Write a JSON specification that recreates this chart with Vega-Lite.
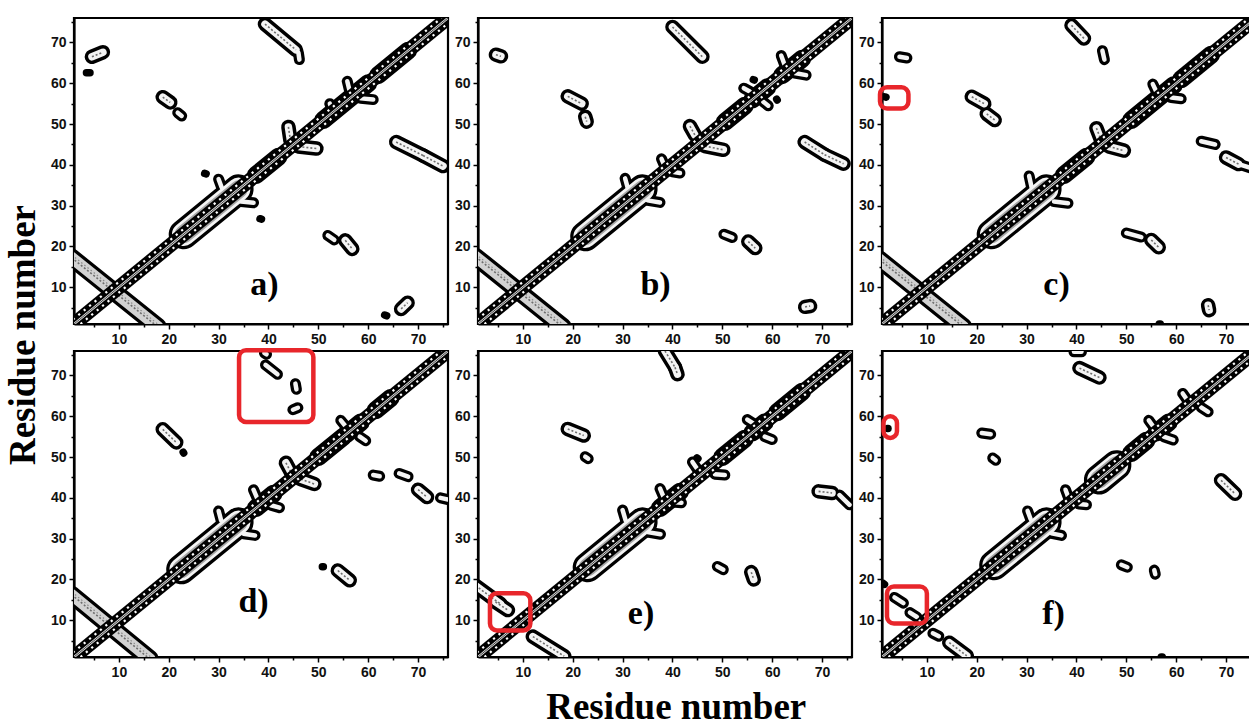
{
"$schema": "https://vega.github.io/schema/vega-lite/v6.json",
"background": "white",
"padding": {"left": 5, "top": 13, "right": 0, "bottom": 5},
"config": {"view": {"stroke": "black", "strokeWidth": 2.2}, "header": {"labels": false, "title": null, "labelFontSize": 0, "labelPadding": 0}},
"title": {"text": "Residue number", "orient": "bottom", "anchor": "middle", "font": "Liberation Serif", "fontSize": 37, "fontWeight": "bold", "color": "black", "offset": 10, "dx": 45},
"data": {"values": [
{"p":"a","k":"diag","x":1,"y":1,"x2":76,"y2":76},
{"p":"b","k":"diag","x":1,"y":1,"x2":76,"y2":76},
{"p":"c","k":"diag","x":1,"y":1,"x2":76,"y2":76},
{"p":"d","k":"diag","x":1,"y":1,"x2":76,"y2":76},
{"p":"e","k":"diag","x":1,"y":1,"x2":76,"y2":76},
{"p":"f","k":"diag","x":1,"y":1,"x2":76,"y2":76},
{"p":"a","k":"lab","x":39.2,"y":10.6,"t":"a)"},
{"p":"b","k":"lab","x":36.6,"y":10.6,"t":"b)"},
{"p":"c","k":"lab","x":36,"y":10.6,"t":"c)"},
{"p":"d","k":"lab","x":37,"y":14.4,"t":"d)"},
{"p":"e","k":"lab","x":33.7,"y":11.5,"t":"e)"},
{"p":"f","k":"lab","x":35.4,"y":11.5,"t":"f)"},
{"p":"a","k":"ad","x":0.5,"y":17.3,"x2":17.8,"y2":0.3},
{"p":"a","k":"xl","x":23,"y":23,"x2":34,"y2":34},
{"p":"a","k":"s","x":30,"y":36.5,"x2":30.6,"y2":34.5},
{"p":"a","k":"s","x":34.5,"y":31,"x2":37,"y2":30.7},
{"p":"a","k":"l","x":37.5,"y":37.5,"x2":42,"y2":42},
{"p":"a","k":"m","x":44,"y":49.3,"x2":44.4,"y2":46},
{"p":"a","k":"m","x":46,"y":44.5,"x2":49.6,"y2":44},
{"p":"a","k":"l","x":51,"y":51,"x2":60,"y2":60},
{"p":"a","k":"s","x":52.3,"y":55,"x2":52.8,"y2":53.5},
{"p":"a","k":"s","x":55.8,"y":60.5,"x2":56.2,"y2":58.5},
{"p":"a","k":"s","x":58.5,"y":56.3,"x2":61,"y2":56},
{"p":"a","k":"l","x":62,"y":62,"x2":68,"y2":68},
{"p":"a","k":"m","x":4.6,"y":66.5,"x2":6.8,"y2":67.6},
{"p":"a","k":"xs","x":3.5,"y":62.6,"x2":4.2,"y2":62.6},
{"p":"a","k":"m","x":18.8,"y":56.6,"x2":20.3,"y2":55.3},
{"p":"a","k":"s","x":21.8,"y":52.8,"x2":22.6,"y2":52},
{"p":"a","k":"m","x":39.3,"y":74.5,"x2":45.5,"y2":68.2},
{"p":"a","k":"s","x":46,"y":67.5,"x2":46.2,"y2":65.8},
{"p":"a","k":"m","x":65.6,"y":45.6,"x2":71,"y2":42.3},
{"p":"a","k":"m","x":71,"y":42.3,"x2":75,"y2":39.7},
{"p":"a","k":"xs","x":27.2,"y":37.9,"x2":27.5,"y2":37.8},
{"p":"a","k":"xs","x":38.3,"y":26.8,"x2":38.6,"y2":26.7},
{"p":"a","k":"s","x":51.9,"y":22.7,"x2":53.2,"y2":21.6},
{"p":"a","k":"m","x":55.4,"y":21.5,"x2":56.8,"y2":19.4},
{"p":"a","k":"xs","x":63.3,"y":3.2,"x2":63.7,"y2":3},
{"p":"a","k":"m","x":66.6,"y":4.7,"x2":67.9,"y2":6.2},
{"p":"b","k":"ad","x":0.5,"y":17.5,"x2":18,"y2":0.3},
{"p":"b","k":"xl","x":22.5,"y":22.5,"x2":34,"y2":34},
{"p":"b","k":"s","x":30.5,"y":36.7,"x2":31,"y2":34.5},
{"p":"b","k":"s","x":35,"y":31.3,"x2":37.5,"y2":30.8},
{"p":"b","k":"s","x":37.8,"y":41.5,"x2":38.5,"y2":39.5},
{"p":"b","k":"s","x":40,"y":38.3,"x2":41.5,"y2":38},
{"p":"b","k":"m","x":43.5,"y":49.5,"x2":44.5,"y2":47.3},
{"p":"b","k":"m","x":46.5,"y":44.6,"x2":50.2,"y2":43.7},
{"p":"b","k":"l","x":50.5,"y":50.5,"x2":54.5,"y2":54.5},
{"p":"b","k":"l","x":56,"y":56,"x2":59,"y2":59},
{"p":"b","k":"s","x":54.3,"y":58.8,"x2":55.5,"y2":58},
{"p":"b","k":"s","x":58.2,"y":55.5,"x2":59.2,"y2":54.5},
{"p":"b","k":"xs","x":56.2,"y":60.9,"x2":56.4,"y2":60.8},
{"p":"b","k":"xs","x":60.9,"y":56.1,"x2":61,"y2":55.9},
{"p":"b","k":"l","x":62,"y":62,"x2":66,"y2":66},
{"p":"b","k":"s","x":61.8,"y":66.8,"x2":62.5,"y2":64.5},
{"p":"b","k":"s","x":64.5,"y":62.5,"x2":66.8,"y2":62},
{"p":"b","k":"m","x":4.6,"y":67,"x2":5.6,"y2":66.6},
{"p":"b","k":"m","x":19,"y":56.8,"x2":21.8,"y2":55},
{"p":"b","k":"m","x":22.5,"y":51.8,"x2":22.8,"y2":50.6},
{"p":"b","k":"m","x":40,"y":73.8,"x2":46,"y2":66.5},
{"p":"b","k":"m","x":66.5,"y":45.6,"x2":70.5,"y2":42.5},
{"p":"b","k":"m","x":70.5,"y":42.5,"x2":74.3,"y2":40.3},
{"p":"b","k":"s","x":50.3,"y":23,"x2":52,"y2":22.2},
{"p":"b","k":"m","x":55.2,"y":21.2,"x2":56.6,"y2":19.6},
{"p":"b","k":"m","x":66.6,"y":5.2,"x2":67.6,"y2":5.4},
{"p":"c","k":"ad","x":0.5,"y":16.8,"x2":17.3,"y2":0.3},
{"p":"c","k":"xl","x":23,"y":23,"x2":34,"y2":34},
{"p":"c","k":"s","x":30.5,"y":37.3,"x2":31,"y2":34.5},
{"p":"c","k":"s","x":35.5,"y":31,"x2":38.3,"y2":30.6},
{"p":"c","k":"l","x":37.5,"y":37.5,"x2":42,"y2":42},
{"p":"c","k":"m","x":44,"y":49,"x2":44.8,"y2":46.5},
{"p":"c","k":"m","x":46.5,"y":44.5,"x2":49.5,"y2":43.5},
{"p":"c","k":"l","x":51,"y":51,"x2":59.5,"y2":59.5},
{"p":"c","k":"s","x":55.3,"y":59.8,"x2":56,"y2":58},
{"p":"c","k":"s","x":59,"y":56.5,"x2":61,"y2":56.2},
{"p":"c","k":"l","x":61,"y":61,"x2":67,"y2":67},
{"p":"c","k":"s","x":4.5,"y":66.5,"x2":6,"y2":66.2},
{"p":"c","k":"xs","x":1.5,"y":56.7,"x2":1.8,"y2":56.6},
{"p":"c","k":"m","x":19,"y":56.7,"x2":21.5,"y2":55},
{"p":"c","k":"m","x":22,"y":52.5,"x2":23.6,"y2":51},
{"p":"c","k":"m","x":39,"y":74.2,"x2":41.5,"y2":71},
{"p":"c","k":"s","x":45.2,"y":68,"x2":45.6,"y2":65.8},
{"p":"c","k":"s","x":65,"y":45.8,"x2":67.8,"y2":45},
{"p":"c","k":"m","x":70,"y":41.8,"x2":72.5,"y2":40.2},
{"p":"c","k":"s","x":72.5,"y":40.2,"x2":75.5,"y2":39},
{"p":"c","k":"s","x":50,"y":23.3,"x2":53,"y2":22.3},
{"p":"c","k":"m","x":55,"y":21.6,"x2":56.5,"y2":19.8},
{"p":"c","k":"m","x":66.4,"y":5.6,"x2":66.6,"y2":4.4},
{"p":"c","k":"xs","x":56.6,"y":1,"x2":56.8,"y2":1},
{"p":"c","k":"box","x":0.6,"y":59,"x2":6.3,"y2":53.8},
{"p":"d","k":"ad","x":0.5,"y":16.3,"x2":16.2,"y2":0.5},
{"p":"d","k":"xl","x":22.5,"y":22.5,"x2":34,"y2":34},
{"p":"d","k":"s","x":30,"y":36.8,"x2":30.5,"y2":34.5},
{"p":"d","k":"s","x":35,"y":31.2,"x2":37.3,"y2":30.8},
{"p":"d","k":"l","x":37.5,"y":37.5,"x2":41,"y2":41},
{"p":"d","k":"s","x":37,"y":42,"x2":37.7,"y2":40},
{"p":"d","k":"s","x":40.5,"y":38.2,"x2":42.2,"y2":37.6},
{"p":"d","k":"m","x":43.5,"y":48.6,"x2":44.5,"y2":46.3},
{"p":"d","k":"m","x":46.5,"y":44.6,"x2":49.2,"y2":43.4},
{"p":"d","k":"l","x":50,"y":50,"x2":55,"y2":55},
{"p":"d","k":"l","x":55.5,"y":55.5,"x2":58.5,"y2":58.5},
{"p":"d","k":"s","x":54.5,"y":59,"x2":55.5,"y2":57.5},
{"p":"d","k":"s","x":58.3,"y":55,"x2":59.5,"y2":54},
{"p":"d","k":"l","x":61.5,"y":61.5,"x2":64.5,"y2":64.5},
{"p":"d","k":"m","x":18.8,"y":56.8,"x2":21.5,"y2":53.6},
{"p":"d","k":"xs","x":22.9,"y":51.2,"x2":23,"y2":51},
{"p":"d","k":"s","x":39.2,"y":75.5,"x2":39.6,"y2":75.2},
{"p":"d","k":"s","x":39.4,"y":72.6,"x2":41.8,"y2":70.3},
{"p":"d","k":"s","x":45.4,"y":68,"x2":45.6,"y2":66.6},
{"p":"d","k":"s","x":44.9,"y":61.6,"x2":45.9,"y2":62.1},
{"p":"d","k":"s","x":61,"y":45.6,"x2":62.3,"y2":45.3},
{"p":"d","k":"s","x":66.2,"y":46,"x2":68,"y2":45.2},
{"p":"d","k":"m","x":70,"y":42,"x2":71.8,"y2":40.2},
{"p":"d","k":"s","x":74.5,"y":40,"x2":76,"y2":39.6},
{"p":"d","k":"xs","x":50.8,"y":23.1,"x2":51,"y2":23.1},
{"p":"d","k":"m","x":53.9,"y":22.2,"x2":56.3,"y2":19.8},
{"p":"d","k":"box","x":34.1,"y":76.2,"x2":49,"y2":58.6},
{"p":"e","k":"m","x":12,"y":6,"x2":18.3,"y2":1.2},
{"p":"e","k":"m","x":0.5,"y":18.5,"x2":5.5,"y2":14},
{"p":"e","k":"m","x":4.5,"y":14.5,"x2":7,"y2":12.5},
{"p":"e","k":"xl","x":23,"y":23,"x2":34,"y2":34},
{"p":"e","k":"s","x":30,"y":37,"x2":30.6,"y2":34.5},
{"p":"e","k":"s","x":35,"y":31.6,"x2":37.6,"y2":31.1},
{"p":"e","k":"l","x":37.5,"y":37.5,"x2":41.5,"y2":41.5},
{"p":"e","k":"s","x":37.5,"y":42.3,"x2":38.3,"y2":40},
{"p":"e","k":"s","x":40,"y":39,"x2":41.8,"y2":38.8},
{"p":"e","k":"s","x":44,"y":48.8,"x2":45,"y2":47},
{"p":"e","k":"xs","x":44.9,"y":49.8,"x2":45.1,"y2":49.6},
{"p":"e","k":"s","x":48.5,"y":45.8,"x2":50.5,"y2":45.6},
{"p":"e","k":"l","x":50,"y":50,"x2":54.5,"y2":54.5},
{"p":"e","k":"l","x":56,"y":56,"x2":58.5,"y2":58.5},
{"p":"e","k":"s","x":55,"y":59.2,"x2":56.5,"y2":58},
{"p":"e","k":"s","x":58.5,"y":55,"x2":60,"y2":54.3},
{"p":"e","k":"l","x":61,"y":61,"x2":66,"y2":66},
{"p":"e","k":"m","x":38.5,"y":76,"x2":40.5,"y2":72},
{"p":"e","k":"m","x":40.5,"y":72,"x2":41,"y2":70.3},
{"p":"e","k":"m","x":19,"y":56.9,"x2":22.2,"y2":55.3},
{"p":"e","k":"s","x":22.5,"y":50.1,"x2":23.1,"y2":49.6},
{"p":"e","k":"m","x":69.3,"y":41.6,"x2":72,"y2":41.2},
{"p":"e","k":"s","x":73.5,"y":40.7,"x2":75.5,"y2":38.3},
{"p":"e","k":"s","x":49,"y":23.2,"x2":50.2,"y2":22.4},
{"p":"e","k":"m","x":55.8,"y":21.8,"x2":56.3,"y2":20},
{"p":"e","k":"box","x":3.4,"y":16.6,"x2":11.5,"y2":7.5},
{"p":"f","k":"m","x":14.5,"y":4.5,"x2":18,"y2":1.3},
{"p":"f","k":"s","x":3.5,"y":15.6,"x2":5.3,"y2":14.2},
{"p":"f","k":"s","x":6.6,"y":11.9,"x2":8,"y2":10.8},
{"p":"f","k":"xs","x":1.3,"y":19,"x2":1.5,"y2":18.8},
{"p":"f","k":"s","x":11.2,"y":6.8,"x2":12.4,"y2":6.1},
{"p":"f","k":"xl","x":23.5,"y":23.5,"x2":34,"y2":34},
{"p":"f","k":"s","x":30.2,"y":36.8,"x2":30.8,"y2":34.8},
{"p":"f","k":"s","x":35,"y":31.3,"x2":37,"y2":30.8},
{"p":"f","k":"s","x":37.8,"y":42,"x2":38.4,"y2":40},
{"p":"f","k":"s","x":40.5,"y":38.5,"x2":42,"y2":38.3},
{"p":"f","k":"xl","x":44.5,"y":44.5,"x2":48,"y2":48},
{"p":"f","k":"l","x":51,"y":51,"x2":54,"y2":54},
{"p":"f","k":"l","x":56,"y":56,"x2":58.5,"y2":58.5},
{"p":"f","k":"s","x":54.5,"y":59,"x2":55.4,"y2":57.5},
{"p":"f","k":"s","x":57.5,"y":55,"x2":59.4,"y2":54.2},
{"p":"f","k":"s","x":61.3,"y":65.6,"x2":62.2,"y2":64},
{"p":"f","k":"s","x":65,"y":62.2,"x2":66.4,"y2":61.1},
{"p":"f","k":"s","x":39.5,"y":75.8,"x2":41,"y2":75.8},
{"p":"f","k":"m","x":40.6,"y":71.8,"x2":44.6,"y2":69.5},
{"p":"f","k":"s","x":21,"y":55.9,"x2":22.8,"y2":55.6},
{"p":"f","k":"s","x":23.2,"y":49.8,"x2":23.8,"y2":49.2},
{"p":"f","k":"m","x":69,"y":44.3,"x2":71.8,"y2":41},
{"p":"f","k":"s","x":49,"y":23.6,"x2":50.2,"y2":23},
{"p":"f","k":"s","x":55.6,"y":22.3,"x2":55.8,"y2":21.3},
{"p":"f","k":"xs","x":57,"y":1,"x2":57.2,"y2":1},
{"p":"f","k":"xs","x":2.1,"y":57,"x2":2.2,"y2":57},
{"p":"f","k":"box","x":1.3,"y":60,"x2":4,"y2":54.7},
{"p":"f","k":"box","x":2,"y":18.3,"x2":10,"y2":9.2}
]},
"vconcat": [{
"title": {"text": "Residue number", "orient": "left", "anchor": "middle", "font": "Liberation Serif", "fontSize": 37, "fontWeight": "bold", "color": "black", "offset": 6, "dx": 12},
"facet": {"field": "p", "type": "nominal", "title": null, "header": {"labels": false, "labelExpr": "''", "labelFontSize": 0, "labelPadding": 0, "title": null}},
"columns": 3,
"spacing": {"row": 27, "column": 30},
"bounds": "flush",
"resolve": {"axis": {"x": "independent", "y": "independent"}},
"spec": {
"width": 374,
"height": 306,
"encoding": {
"x": {"field": "x", "type": "quantitative", "scale": {"domain": [1, 76], "nice": false, "zero": false},
"axis": {"values": [5,10,15,20,25,30,35,40,45,50,55,60,65,70,75], "labelExpr": "datum.value % 10 === 0 ? datum.label : ''", "labelOverlap": false, "title": null, "grid": false, "domainColor": "black", "domainWidth": 2.2, "tickColor": "black", "tickWidth": 1.5, "tickSize": {"condition": {"test": "datum.value % 10 === 0", "value": 5}, "value": 3}, "labelFont": "Liberation Sans", "labelFontSize": 14, "labelFontWeight": "bold", "labelColor": "#111", "labelPadding": 3}},
"y": {"field": "y", "type": "quantitative", "scale": {"domain": [1, 76], "nice": false, "zero": false},
"axis": {"values": [5,10,15,20,25,30,35,40,45,50,55,60,65,70,75], "labelExpr": "datum.value % 10 === 0 ? datum.label : ''", "labelOverlap": false, "title": null, "grid": false, "domainColor": "black", "domainWidth": 2.2, "tickColor": "black", "tickWidth": 1.5, "tickSize": {"condition": {"test": "datum.value % 10 === 0", "value": 5}, "value": 3}, "labelFont": "Liberation Sans", "labelFontSize": 14, "labelFontWeight": "bold", "labelColor": "#111", "labelPadding": 3}}
},
"layer": [
{"transform": [{"filter": "indexof(['xs','s','m','l','xl','ad'], datum.k) >= 0"}],
 "mark": {"type": "rule", "color": "black", "strokeCap": "round", "clip": true},
 "encoding": {"x2": {"field": "x2"}, "y2": {"field": "y2"},
  "strokeWidth": {"condition": [{"test": "datum.k === 'xs'", "value": 7.5}, {"test": "datum.k === 's'", "value": 11}, {"test": "datum.k === 'l'", "value": 18}, {"test": "datum.k === 'ad'", "value": 18}, {"test": "datum.k === 'xl'", "value": 30}], "value": 14.5}}},
{"transform": [{"filter": "indexof(['s','m','l','xl'], datum.k) >= 0"}],
 "mark": {"type": "rule", "color": "#f4f4f4", "strokeCap": "round", "clip": true},
 "encoding": {"x2": {"field": "x2"}, "y2": {"field": "y2"},
  "strokeWidth": {"condition": [{"test": "datum.k === 's'", "value": 4.5}, {"test": "datum.k === 'l'", "value": 11}, {"test": "datum.k === 'xl'", "value": 23.5}], "value": 7.5}}},
{"transform": [{"filter": "datum.k === 'ad'"}],
 "mark": {"type": "rule", "color": "#d2d2d2", "strokeCap": "round", "strokeWidth": 11.5, "clip": true},
 "encoding": {"x2": {"field": "x2"}, "y2": {"field": "y2"}}},
{"transform": [{"filter": "datum.k === 'xl'"}],
 "mark": {"type": "rule", "color": "#a8a8a8", "strokeCap": "round", "strokeWidth": 18, "clip": true},
 "encoding": {"x2": {"field": "x2"}, "y2": {"field": "y2"}}},
{"transform": [{"filter": "indexof(['m','l','xl','ad'], datum.k) >= 0"}],
 "mark": {"type": "rule", "color": "#6e6e6e", "strokeWidth": 1.6, "strokeDash": [2, 2], "clip": true},
 "encoding": {"x2": {"field": "x2"}, "y2": {"field": "y2"}}},
{"transform": [{"filter": "datum.k === 'ad'"}],
 "mark": {"type": "rule", "color": "#8a8a8a", "strokeWidth": 1.2, "strokeDash": [1.5, 2.5], "xOffset": 3.5, "x2Offset": 3.5, "clip": true},
 "encoding": {"x2": {"field": "x2"}, "y2": {"field": "y2"}}},
{"transform": [{"filter": "datum.k === 'diag'"}],
 "mark": {"type": "rule", "color": "black", "strokeWidth": 14.5, "clip": true},
 "encoding": {"x2": {"field": "x2"}, "y2": {"field": "y2"}}},
{"transform": [{"filter": "datum.k === 'diag'"}],
 "mark": {"type": "rule", "color": "white", "strokeWidth": 2.2, "strokeDash": [2.2, 4.8], "xOffset": -6.5, "x2Offset": -6.5, "clip": true},
 "encoding": {"x2": {"field": "x2"}, "y2": {"field": "y2"}}},
{"transform": [{"filter": "datum.k === 'diag'"}],
 "mark": {"type": "rule", "color": "white", "strokeWidth": 2.2, "strokeDash": [2.2, 4.8], "xOffset": 6.5, "x2Offset": 6.5, "clip": true},
 "encoding": {"x2": {"field": "x2"}, "y2": {"field": "y2"}}},
{"transform": [{"filter": "datum.k === 'diag'"}],
 "mark": {"type": "rule", "color": "#e0e0e0", "strokeWidth": 2.4, "clip": true},
 "encoding": {"x2": {"field": "x2"}, "y2": {"field": "y2"}}},
{"transform": [{"filter": "datum.k === 'diag'"}],
 "mark": {"type": "rule", "color": "#333", "strokeWidth": 0.9, "clip": true},
 "encoding": {"x2": {"field": "x2"}, "y2": {"field": "y2"}}},
{"transform": [{"filter": "datum.k === 'box'"}],
 "mark": {"type": "rect", "fill": null, "fillOpacity": 0, "stroke": "#e8262b", "strokeWidth": 4.5, "cornerRadius": 7},
 "encoding": {"x2": {"field": "x2"}, "y2": {"field": "y2"}}},
{"transform": [{"filter": "datum.k === 'lab'"}],
 "mark": {"type": "text", "font": "Liberation Serif", "fontSize": 34, "fontWeight": "bold", "color": "black", "align": "center", "baseline": "middle"},
 "encoding": {"text": {"field": "t"}}}
]
}
}]
}
